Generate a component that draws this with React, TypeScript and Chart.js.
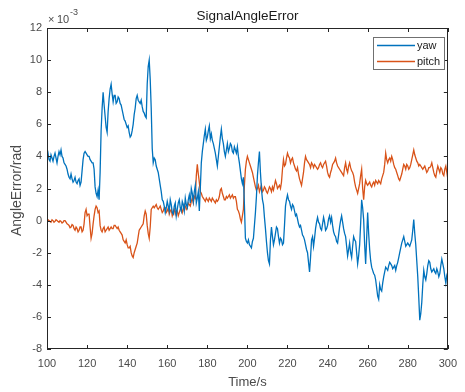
import React, { useEffect, useRef } from "react";
import { Chart, registerables } from "chart.js";

Chart.register(...registerables);

const startTime = 100;
// samples at whole seconds 100..300
const yawValues = [
  4.0, 3.8, 4.1, 3.7, 4.2, 3.6, 4.3, 4.4, 3.9, 3.5,
  3.2, 2.7, 2.9, 2.4, 2.7, 2.3, 2.6, 2.4, 3.8, 4.3,
  4.1, 4.0, 3.7, 3.6, 2.1, 1.5, 1.3, 5.6, 8.0, 6.5,
  5.5, 7.6, 8.5, 7.4, 7.8, 7.4, 7.6, 7.2, 6.6, 6.2,
  5.8, 5.5, 5.3, 6.0, 7.0, 7.8, 7.4, 7.5, 6.8, 6.5,
  8.5, 10.0, 7.0, 3.6, 3.8, 3.2, 2.6, 1.8, 1.2, 0.5,
  1.2, 0.6, 1.0, 0.4, 1.1, 0.7, 1.3, 0.6, 1.0, 1.4,
  0.8, 1.6, 2.0, 1.2, 2.2, 1.4, 0.6, 3.6, 4.8, 5.7,
  5.2, 5.9, 5.4, 4.8, 4.2, 3.4, 4.6, 5.7, 4.8, 4.0,
  4.8, 4.5, 4.7, 4.2, 4.4, 4.6, 3.6, 2.6, 2.7, -1.1,
  -1.4, -1.5, -1.7, -1.1, 0.5, 2.8, 4.3, 2.0, 1.0, -0.5,
  -2.0, -2.7, -0.4, -1.5, -0.8, -0.5, -1.4, -1.2, -1.4, 0.9,
  1.6, 1.2, 0.7, 0.9, 0.3, 0.1, -0.4, -0.6, -1.0, -1.5,
  -2.0, -3.2, -1.2, -1.6, -0.5, 0.2, -0.2, -0.6, 0.2, -0.6,
  -0.3, 0.3, 0.2, -0.7, -1.0, -1.4, -0.4, 0.3, -0.5, -1.0,
  -2.2, -1.4, -2.3, -1.0, -1.3, -2.7, -1.5, 1.3, 0.06, -2.7,
  0.5, -1.8, -2.9, -3.3, -3.7, -4.7, -4.0, -4.4, -3.5, -2.9,
  -3.1, -2.6, -2.8, -2.9, -3.1, -2.6, -2.0, -1.4, -1.0, -1.6,
  -1.4, -1.6, -1.2, 0.06, -1.5, -3.5, -6.2, -5.1, -3.1, -3.7,
  -2.8, -2.6, -3.2, -3.0, -3.3, -3.2, -3.3, -2.4, -3.0, -3.9,
  -3.2,
];
// samples at half seconds 100.5..299.5
const yawHalfValues = [
  4.2, 3.7, 3.9, 4.0, 3.9, 4.0, 4.1, 4.0, 3.6, 3.4,
  2.9, 2.6, 2.6, 2.5, 2.4, 2.5, 2.2, 3.1, 4.2, 4.2,
  4.0, 3.8, 3.6, 3.2, 1.7, 1.9, 3.0, 7.0, 7.2, 5.8,
  6.8, 8.2, 7.9, 7.8, 7.3, 7.7, 7.3, 6.9, 6.3, 6.0,
  5.9, 5.2, 5.6, 6.6, 7.6, 7.5, 7.3, 7.1, 6.7, 6.4,
  9.6, 8.8, 4.5, 3.9, 3.4, 3.0, 2.2, 1.3, 0.9, 0.8,
  0.9, 1.3, 0.5, 0.9, 0.3, 1.1, 0.8, 1.2, 0.6, 1.0,
  1.3, 1.1, 1.7, 1.8, 1.1, 1.8, 2.0, 4.3, 5.3, 5.0,
  5.6, 5.1, 5.0, 4.5, 3.8, 4.0, 5.2, 5.1, 4.3, 4.4,
  4.3, 4.8, 4.3, 4.6, 4.2, 4.0, 3.1, 2.3, 1.0, -1.3,
  -1.2, -1.6, -1.3, -0.3, 1.5, 3.6, 3.0, 1.3, 0.2, -1.3,
  -2.5, -1.2, -1.0, -1.2, -0.4, -1.0, -1.1, -1.5, -0.3, 1.3,
  1.3, 0.9, 1.0, 0.6, 0.4, -0.2, -0.3, -0.9, -1.2, -1.8,
  -2.6, -2.3, -1.0, -1.1, -0.1, -0.1, -0.5, -0.2, -0.1, -0.5,
  0.1, -0.1, -0.3, -0.9, -1.3, -0.9, 0.0, -0.1, -0.8, -1.6,
  -1.8, -2.0, -1.6, -1.2, -2.0, -2.2, -0.2, 0.8, -1.5, -1.1,
  -0.8, -2.5, -3.1, -3.4, -4.2, -4.9, -4.3, -3.9, -3.2, -3.0,
  -2.8, -2.7, -3.0, -2.8, -2.8, -2.3, -1.7, -1.2, -1.3, -1.5,
  -1.5, -1.4, -0.6, -0.8, -2.5, -4.8, -5.8, -4.0, -3.5, -3.3,
  -2.5, -3.0, -3.1, -3.2, -3.0, -3.5, -2.8, -2.7, -3.5, -3.4,
];
const pitchValues = [
  -0.1, 0.0, -0.1, 0.0, -0.05, 0.0, -0.1, -0.05, -0.1, 0.0,
  -0.2, -0.3, -0.4, -0.3, -0.6, -0.5, -0.6, -0.4, -0.6, 0.5,
  0.3, 0.4, -1.1, -0.2, 0.7, 0.8, 0.6, -0.6, -0.5, -0.7,
  -0.5, -0.6, -0.4, -0.5, -0.3, -0.5, -0.6, -0.8, -1.2, -1.4,
  -1.5, -1.7, -2.0, -2.3, -1.8, -1.4, -0.6, -0.4, -0.2, 0.6,
  -0.3, -1.1, 0.7, 0.9, 0.9, 0.8, 0.8, 0.7, 0.6, 0.8,
  0.6, 0.4, 0.7, 0.5, 0.4, 0.6, 0.5, 0.8, 0.7, 0.9,
  0.8, 1.0, 1.2, 1.1, 1.4, 3.5, 2.4, 1.7, 1.4, 1.2,
  1.3, 1.4, 1.2, 1.3, 1.1, 1.2, 1.5, 2.0, 1.5, 1.3,
  1.4, 1.6, 1.5, 1.4, 1.5, 0.7, 0.4, -0.1, 0.7, 3.2,
  4.0, 3.6, 3.2, 2.7, 2.1, 2.0, 1.8, 2.2, 1.9, 2.0,
  1.7, 2.1, 1.8, 1.9, 2.5, 2.0, 2.2, 2.4, 3.8, 3.5,
  4.2, 3.9, 3.8, 3.6, 3.2, 3.3, 2.6, 2.2, 3.0, 4.0,
  3.7, 3.5, 3.6, 3.3, 3.4, 3.2, 3.5, 3.4, 3.5, 3.7,
  3.0, 2.7, 3.2, 3.6, 3.9, 3.4, 3.2, 3.0, 2.8, 3.6,
  3.0, 3.6, 3.1, 2.8, 2.1, 1.7, 2.3, 3.2, 1.3, 2.5,
  2.2, 2.4, 2.1, 2.4, 2.5, 2.3, 2.4, 2.6, 3.0, 4.2,
  3.6, 3.9, 4.0, 3.5, 3.2, 2.8, 2.5, 2.9, 3.5, 3.2,
  3.4, 3.3, 3.8, 4.4, 3.9, 3.6, 3.5, 3.3, 3.3, 3.2,
  3.1, 3.3, 3.6, 3.0, 2.7, 3.4, 3.0, 3.2, 2.8, 3.4,
  2.6,
];
const pitchHalfValues = [
  0.05, -0.05, 0.05, -0.1, 0.05, -0.05, 0.0, -0.15, 0.0, -0.1,
  -0.25, -0.45, -0.25, -0.5, -0.4, -0.7, -0.4, -0.7, -0.2, 0.7,
  0.4, -0.4, -0.8, 0.3, 0.9, 0.5, -0.3, -0.7, -0.4, -0.6,
  -0.4, -0.5, -0.5, -0.3, -0.4, -0.4, -0.7, -0.9, -1.3, -1.2,
  -1.7, -1.6, -2.2, -2.0, -1.6, -1.0, -0.5, -0.3, 0.3, 0.4,
  -0.8, -0.4, 0.8, 0.8, 1.0, 0.7, 0.9, 0.5, 0.8, 0.5,
  0.8, 0.6, 0.3, 0.7, 0.6, 0.3, 0.7, 0.5, 1.0, 0.7,
  1.1, 0.9, 1.4, 1.5, 2.8, 2.9, 1.8, 1.5, 1.3, 1.4,
  1.2, 1.3, 1.4, 1.2, 1.3, 1.3, 1.9, 1.7, 1.3, 1.5,
  1.5, 1.4, 1.6, 1.5, 1.2, 0.6, 0.1, 0.3, 2.2, 3.7,
  3.8, 3.4, 3.0, 2.4, 1.9, 2.2, 2.0, 1.8, 2.1, 1.8,
  1.9, 2.0, 2.1, 2.2, 2.3, 2.1, 2.0, 3.2, 3.4, 3.9,
  4.0, 3.6, 3.9, 3.4, 3.1, 2.9, 2.4, 2.6, 3.6, 3.8,
  3.6, 3.3, 3.5, 3.5, 3.3, 3.3, 3.6, 3.3, 3.6, 3.4,
  2.8, 3.0, 3.5, 3.7, 3.6, 3.3, 3.1, 2.9, 3.3, 3.2,
  3.4, 3.3, 3.0, 2.4, 1.9, 2.0, 2.8, 2.0, 2.1, 2.3,
  2.3, 2.2, 2.3, 2.2, 2.4, 2.5, 2.3, 2.8, 3.5, 3.8,
  3.8, 3.7, 3.8, 3.3, 3.0, 2.6, 2.7, 3.2, 3.4, 3.5,
  3.2, 3.5, 4.1, 4.1, 3.7, 3.4, 3.4, 3.2, 3.4, 3.0,
  3.3, 3.4, 3.3, 2.8, 3.1, 3.2, 3.3, 2.9, 3.2, 3.0,
];
const seriesNames = ["yaw", "pitch"];
const seriesColors = ["#0072BD", "#D95319"];
const xTicks = [100, 120, 140, 160, 180, 200, 220, 240, 260, 280, 300];
const yTicks = [-8, -6, -4, -2, 0, 2, 4, 6, 8, 10, 12];
const titleText = "SignalAngleError";
const xLabel = "Time/s";
const yLabel = "AngleError/rad";

const FONT = "Liberation Sans, Arial, sans-serif";
const AXIS = "#262626";
const TICK_TXT = "#4a4a4a";

function mergeSeries(whole: number[], half: number[]) {
  const pts: { x: number; y: number }[] = [];
  whole.forEach((v, i) => {
    pts.push({ x: startTime + i, y: v });
    if (i < half.length) pts.push({ x: startTime + i + 0.5, y: half[i] });
  });
  return pts;
}

const decorPlugin = {
  id: "decor",
  afterDraw(chart: any) {
    const { ctx, chartArea: a, scales } = chart;
    const xs = scales.x;
    const ys = scales.y;
    ctx.save();
    ctx.strokeStyle = AXIS;
    ctx.lineWidth = 1;
    ctx.strokeRect(Math.round(a.left) + 0.5, Math.round(a.top) + 0.5, Math.round(a.right - a.left) - 1, Math.round(a.bottom - a.top) - 1);
    ctx.beginPath();
    const tl = 4;
    xTicks.forEach((t) => {
      const px = Math.round(xs.getPixelForValue(t)) + 0.5;
      ctx.moveTo(px, a.bottom);
      ctx.lineTo(px, a.bottom - tl);
      ctx.moveTo(px, a.top);
      ctx.lineTo(px, a.top + tl);
    });
    yTicks.forEach((t) => {
      const py = Math.round(ys.getPixelForValue(t)) + 0.5;
      ctx.moveTo(a.left, py);
      ctx.lineTo(a.left + tl, py);
      ctx.moveTo(a.right, py);
      ctx.lineTo(a.right - tl, py);
    });
    ctx.stroke();

    ctx.fillStyle = "#1a1a1a";
    ctx.font = `13.5px ${FONT}`;
    ctx.textAlign = "center";
    ctx.textBaseline = "middle";
    ctx.fillText(titleText, (a.left + a.right) / 2, 16);

    ctx.fillStyle = TICK_TXT;
    ctx.font = `13px ${FONT}`;
    ctx.fillText(xLabel, (a.left + a.right) / 2, 382);

    ctx.save();
    ctx.translate(17, (a.top + a.bottom) / 2 + 2);
    ctx.rotate(-Math.PI / 2);
    ctx.font = `14px ${FONT}`;
    ctx.fillText(yLabel, 0, 0);
    ctx.restore();

    ctx.textAlign = "left";
    ctx.font = `11px ${FONT}`;
    ctx.fillText("\u00d7", 48, 20);
    ctx.fillText("10", 57, 20);
    ctx.font = `9px ${FONT}`;
    ctx.fillText("-3", 70, 13);

    const lx = 373.5, ly = 37.5, lw = 71, lh = 32;
    ctx.fillStyle = "#ffffff";
    ctx.fillRect(lx, ly, lw, lh);
    ctx.strokeStyle = "#707070";
    ctx.lineWidth = 1;
    ctx.strokeRect(lx, ly, lw, lh);
    const rows = [45.5, 61.5];
    seriesNames.forEach((n, i) => {
      ctx.beginPath();
      ctx.strokeStyle = seriesColors[i];
      ctx.lineWidth = 1.3;
      ctx.moveTo(377, rows[i]);
      ctx.lineTo(415, rows[i]);
      ctx.stroke();
      ctx.fillStyle = "#1a1a1a";
      ctx.font = `11px ${FONT}`;
      ctx.textAlign = "left";
      ctx.textBaseline = "middle";
      ctx.fillText(n, 417, rows[i]);
    });
    ctx.restore();
  },
};

export default function App() {
  const ref = useRef<HTMLCanvasElement | null>(null);
  useEffect(() => {
    document.body.style.margin = "0";
    const canvas = ref.current;
    if (!canvas) return;
    const series = [
      mergeSeries(yawValues, yawHalfValues),
      mergeSeries(pitchValues, pitchHalfValues),
    ];
    const chart = new Chart(canvas, {
      type: "line",
      data: {
        datasets: series.map((pts, k) => ({
          label: seriesNames[k],
          data: pts,
          borderColor: seriesColors[k],
          borderWidth: 1.3,
          pointRadius: 0,
          tension: 0,
          fill: false,
        })),
      },
      options: {
        animation: false,
        responsive: false,
        devicePixelRatio: 1,
        layout: { padding: { left: 0, top: 28, right: 9, bottom: 0 } },
        plugins: { legend: { display: false }, title: { display: false }, tooltip: { enabled: false } },
        scales: {
          x: {
            type: "linear",
            min: 100,
            max: 300,
            afterFit: (s: any) => { s.height = 43; },
            afterBuildTicks: (s: any) => { s.ticks = xTicks.map((v) => ({ value: v })); },
            grid: { display: false, drawTicks: false },
            border: { display: false },
            ticks: { padding: 8, color: TICK_TXT, font: { family: FONT, size: 11 }, maxRotation: 0, autoSkip: false },
          },
          y: {
            type: "linear",
            min: -8,
            max: 12,
            afterFit: (s: any) => { s.width = 47; },
            afterBuildTicks: (s: any) => { s.ticks = yTicks.map((v) => ({ value: v })); },
            grid: { display: false, drawTicks: false },
            border: { display: false },
            ticks: { padding: 5, color: TICK_TXT, font: { family: FONT, size: 11 }, autoSkip: false },
          },
        },
      },
      plugins: [decorPlugin],
    });
    return () => chart.destroy();
  }, []);
  return (
    <div style={{ position: "absolute", left: 0, top: 0, width: 465, height: 392, background: "#fff" }}>
      <canvas ref={ref} width={465} height={392} style={{ width: 465, height: 392 }} />
    </div>
  );
}
